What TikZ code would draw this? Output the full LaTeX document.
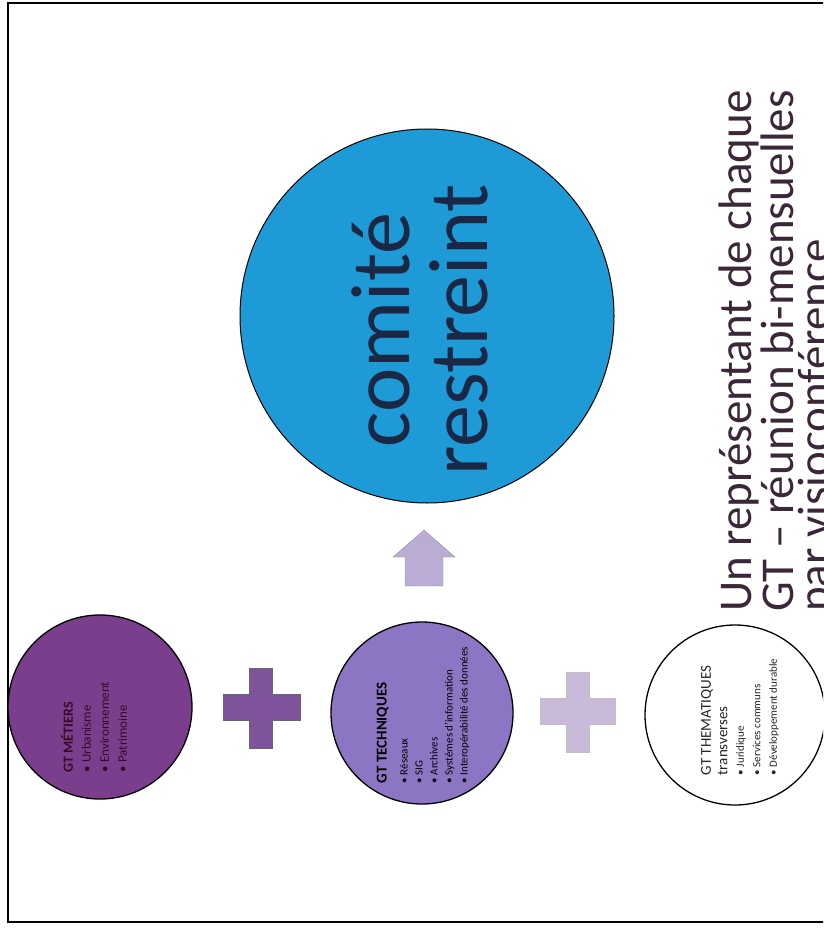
\documentclass[tikz,border=0pt]{standalone}
\usepackage{fontspec}
\setmainfont{Carlito}
\definecolor{metierfill}{RGB}{122,62,140}
\definecolor{techfill}{RGB}{140,118,196}
\definecolor{croixfonce}{RGB}{128,84,156}
\definecolor{croixclair}{RGB}{200,186,216}
\definecolor{flechefill}{RGB}{186,172,212}
\definecolor{comitefill}{RGB}{30,155,215}
\definecolor{comitetext}{RGB}{26,40,70}
\definecolor{notetext}{RGB}{58,40,56}
\begin{document}
\begin{tikzpicture}[x=1pt,y=-1pt,
    bulle/.style={circle,draw=black,line width=1.3pt,inner sep=0pt,minimum size=#1},
    gttext/.style={rotate=90,align=left,inner sep=0pt,font=\fontsize{11}{15}\selectfont}]
  \useasboundingbox (0,0) rectangle (823,928);
  \clip (0,0) rectangle (823,928);
  \fill[white] (0,0) rectangle (823,928);
  % cadre
  \draw[line width=1.6pt] (830,3) -- (8,3) -- (8,922) -- (830,922);
  % les trois GT et le comite
  \draw
    (100,707) node[bulle=184pt,fill=metierfill] (metier){}
    (422,713) node[bulle=182pt,fill=techfill] (tech){}
    (735,715) node[bulle=180pt,fill=white] (theme){}
    (427,316) node[bulle=374pt,fill=comitefill,line width=1pt] (comite){};
  \node[gttext,text={rgb,255:red,60;green,8;blue,36},font=\fontsize{13}{18}\selectfont]
    (metiertxt) at (94,727)
    {{\fontsize{14}{18}\selectfont\bfseries GT MÉTIERS}\\
     • Urbanisme\\ • Environnement\\ • Patrimoine};
  \node[gttext,text=black] (techtxt) at (423,715)
    {{\fontsize{15}{17}\selectfont\bfseries GT TECHNIQUES}\\[6pt]
     • Réseaux\\ • SIG\\ • Archives\\ • Systèmes d'information\\
     • Interopérabilité des données};
  \node[gttext,text=black!85,font=\fontsize{11}{16.5}\selectfont] (themetxt) at (740,717)
    {{\fontsize{15}{16.5}\selectfont GT THEMATIQUES}\\
     {\fontsize{15}{16.5}\selectfont transverses}\\
     • Juridique\\ • Services communs\\ • Développement durable};
  \node[rotate=90,align=center,inner sep=0pt,text=comitetext,
    font=\fontsize{84}{78}\selectfont] (comitetxt) at (420,330) {comité\\restreint};
  % les signes
  \begin{scope}[draw=black!60,line width=0.4pt]
    \filldraw[fill=croixfonce] (249,668) -- (272,668) -- (272,694) -- (300,694)
      -- (300,720) -- (272,720) -- (272,748) -- (249,748) -- (249,720)
      -- (223,720) -- (223,694) -- (249,694) -- cycle;
    \filldraw[fill=croixclair,draw=black!25] (566,672) -- (589,672) -- (589,698)
      -- (615,698) -- (615,724) -- (589,724) -- (589,752) -- (566,752)
      -- (566,724) -- (540,724) -- (540,698) -- (566,698) -- cycle;
    \filldraw[fill=flechefill,draw=black!40] (424,530) -- (455,557) -- (443,557)
      -- (443,586) -- (405,586) -- (405,557) -- (393,557) -- cycle;
  \end{scope}
  % la note
  \node[rotate=90,anchor=north west,align=left,inner sep=0pt,text=notetext,
    font=\fontsize{47}{37}\selectfont] (note) at (719,612)
    {Un représentant de chaque\\ GT – réunion bi-mensuelles\\ par visioconférence};
\end{tikzpicture}
\end{document}
